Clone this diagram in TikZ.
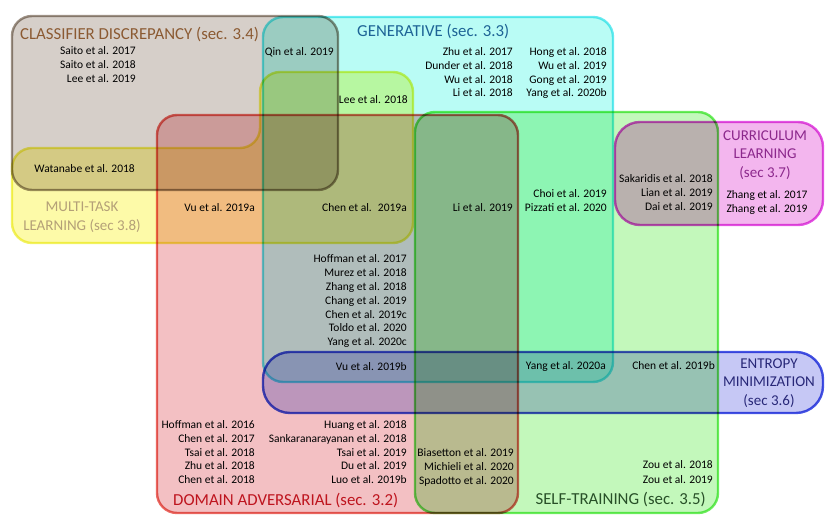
\documentclass[tikz,border=0pt]{standalone}
\usepackage{fontspec}
\setmainfont{Carlito}
\definecolor{clsfill}{RGB}{214,207,201}
\definecolor{clsline}{RGB}{158,146,134}
\definecolor{genfill}{RGB}{185,252,245}
\definecolor{genline}{RGB}{105,234,242}
\definecolor{mtfill}{RGB}{253,250,168}
\definecolor{mtline}{RGB}{242,242,100}
\definecolor{dafill}{RGB}{243,192,195}
\definecolor{daline}{RGB}{235,105,98}
\definecolor{stfill}{RGB}{195,248,187}
\definecolor{stline}{RGB}{110,236,95}
\definecolor{clfill}{RGB}{243,182,238}
\definecolor{clline}{RGB}{228,85,228}
\definecolor{emfill}{RGB}{198,200,245}
\definecolor{emline}{RGB}{70,85,228}
\definecolor{clstext}{RGB}{139,90,50}
\definecolor{gentext}{RGB}{30,100,150}
\definecolor{mttext}{RGB}{180,160,120}
\definecolor{cltext}{RGB}{140,40,140}
\definecolor{emtext}{RGB}{40,40,120}
\definecolor{datext}{RGB}{190,20,30}
\definecolor{sttext}{RGB}{40,80,40}
\tikzset{
  region/.style={line width=2.4pt},
  ref/.style={font=\fontsize{11.5}{14}\selectfont, inner sep=0pt, text height=9.4pt, text depth=2pt, text=black},
  refr/.style={ref, anchor=east},
  title/.style={font=\fontsize{16.8}{20}\selectfont, inner sep=0pt, text height=12pt, text depth=0pt},
  subtitle/.style={font=\fontsize{15}{18.5}\selectfont, inner sep=0pt, align=center},
}
\begin{document}
\begin{tikzpicture}[x=1pt,y=-1pt]
\useasboundingbox (0,0) rectangle (831,530);
\begin{scope}[blend mode=multiply]
  \draw[region, draw=clsline, fill=clsfill, rounded corners=20pt] (12,16) rectangle (338,190);
  \draw[region, draw=genline, fill=genfill, rounded corners=20pt] (263,17) rectangle (613,382);
  \draw[region, draw=mtline, fill=mtfill, rounded corners=20pt]
    (12,200) -- (12,148) -- (260,148) -- (260,72) -- (413,72) -- (413,243) -- (12,243) -- cycle;
  \draw[region, draw=daline, fill=dafill, rounded corners=20pt] (157,115) rectangle (518,513);
  \draw[region, draw=stline, fill=stfill, rounded corners=20pt] (415,112) rectangle (718,513);
  \draw[region, draw=clline, fill=clfill, rounded corners=25pt] (615,122) rectangle (823,225);
  \draw[region, draw=emline, fill=emfill, rounded corners=27pt] (263,352) rectangle (823,413);
\end{scope}

% titles
\node[title, anchor=west, text=clstext] (tcls) at (20,33) {CLASSIFIER DISCREPANCY (sec. 3.4)};
\node[title, anchor=west, text=gentext] (tgen) at (357,30) {GENERATIVE (sec. 3.3)};
\node[title, anchor=west, text=datext] (tda) at (173,499) {DOMAIN ADVERSARIAL (sec. 3.2)};
\node[title, anchor=east, text=sttext] (tst) at (706,498) {SELF-TRAINING (sec. 3.5)};
\node[subtitle, text=mttext] (tmt) at (82,217) {MULTI-TASK\\LEARNING (sec 3.8)};
\node[subtitle, text=cltext] (tcl) at (765,155) {CURRICULUM\\LEARNING\\(sec 3.7)};
\node[subtitle, text=emtext] (tem) at (769,383) {ENTROPY\\MINIMIZATION\\(sec 3.6)};

% classifier discrepancy
\node[refr] (saito17) at (136,51) {Saito et al. 2017};
\node[refr] (saito18) at (136,65) {Saito et al. 2018};
\node[refr] (lee19) at (136,79) {Lee et al. 2019};
\node[refr] (qin19) at (334,52) {Qin et al. 2019};
\node[refr] (watanabe18) at (135,169) {Watanabe et al. 2018};

% generative
\node[refr] (lee18) at (408,100) {Lee et al. 2018};
\node[refr] (zhu17) at (513,52) {Zhu et al. 2017};
\node[refr] (dunder18) at (513,66) {Dunder et al. 2018};
\node[refr] (wu18) at (513,80) {Wu et al. 2018};
\node[refr] (li18) at (513,93) {Li et al. 2018};
\node[refr] (hong18) at (607,52) {Hong et al. 2018};
\node[refr] (wu19) at (607,66) {Wu et al. 2019};
\node[refr] (gong19) at (607,80) {Gong et al. 2019};
\node[refr] (yang20b) at (607,93) {Yang et al. 2020b};

% middle row
\node[refr] (vu19a) at (255,208) {Vu et al. 2019a};
\node[refr] (chen19a) at (407,208) {Chen et al.~ 2019a};
\node[refr] (li19) at (513,208) {Li et al. 2019};
\node[refr] (choi19) at (607,194) {Choi et al. 2019};
\node[refr] (pizzati20) at (607,208) {Pizzati et al. 2020};
\node[refr] (sakaridis18) at (713,179) {Sakaridis et al. 2018};
\node[refr] (lian19) at (713,193) {Lian et al. 2019};
\node[refr] (dai19) at (713,207) {Dai et al. 2019};
\node[ref] (zhang17) at (767,195) {Zhang et al. 2017};
\node[ref] (zhang19) at (767,209) {Zhang et al. 2019};

% generative + adversarial
\node[refr] (hoffman17) at (407,259) {Hoffman et al. 2017};
\node[refr] (murez18) at (407,273) {Murez et al. 2018};
\node[refr] (zhang18) at (407,287) {Zhang et al. 2018};
\node[refr] (chang19) at (407,301) {Chang et al. 2019};
\node[refr] (chen19c) at (407,315) {Chen et al. 2019c};
\node[refr] (toldo20) at (407,328) {Toldo et al. 2020};
\node[refr] (yang20c) at (407,342) {Yang et al. 2020c};

% entropy row
\node[refr] (vu19b) at (407,367) {Vu et al. 2019b};
\node[refr] (yang20a) at (606,366) {Yang et al. 2020a};
\node[refr] (chen19b) at (715,366) {Chen et al. 2019b};

% domain adversarial
\node[refr] (hoffman16) at (255,425) {Hoffman et al. 2016};
\node[refr] (chen17) at (255,439) {Chen et al. 2017};
\node[refr] (tsai18) at (255,453) {Tsai et al. 2018};
\node[refr] (zhu18) at (255,466) {Zhu et al. 2018};
\node[refr] (chen18) at (255,480) {Chen et al. 2018};
\node[refr] (huang18) at (407,425) {Huang et al. 2018};
\node[refr] (sankar18) at (407,439) {Sankaranarayanan et al. 2018};
\node[refr] (tsai19) at (407,453) {Tsai et al. 2019};
\node[refr] (du19) at (407,466) {Du et al. 2019};
\node[refr] (luo19b) at (407,480) {Luo et al. 2019b};
\node[refr] (biasetton19) at (514,453) {Biasetton et al. 2019};
\node[refr] (michieli20) at (514,467) {Michieli et al. 2020};
\node[refr] (spadotto20) at (514,481) {Spadotto et al. 2020};

% self-training
\node[refr] (zou18) at (713,465) {Zou et al. 2018};
\node[refr] (zou19) at (713,480) {Zou et al. 2019};
\end{tikzpicture}
\end{document}
